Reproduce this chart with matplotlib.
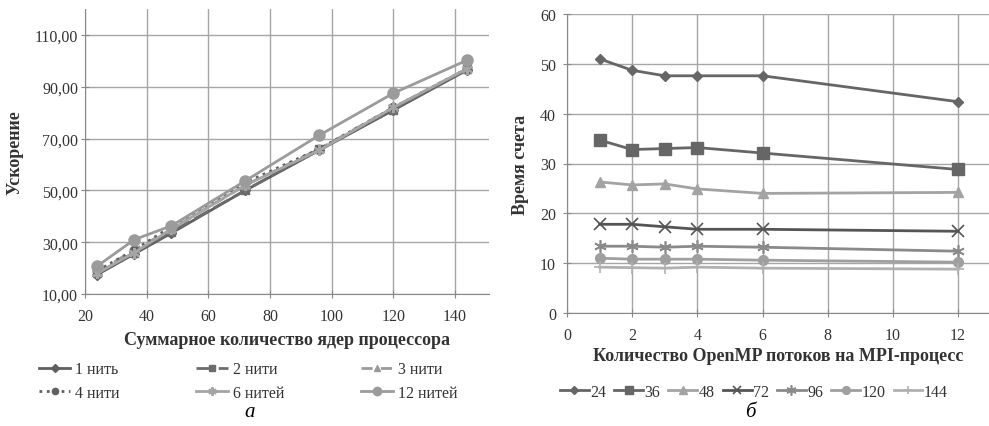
import matplotlib.pyplot as plt
from matplotlib.ticker import FuncFormatter

plt.rcParams['font.family'] = ['Liberation Serif', 'DejaVu Serif']

# левый график: ускорение
cores = [24, 36, 48, 72, 96, 120, 144]
speedup_labels = ['1 нить', '2 нити', '3 нити', '4 нити', '6 нитей', '12 нитей']
s1 = [17.5, 25.5, 33.5, 50.0, 65.5, 81.0, 96.5]
s2 = [18.0, 26.0, 34.0, 50.0, 66.0, 81.0, 97.0]
s3 = [18.5, 27.0, 35.0, 52.0, 66.0, 82.0, 97.0]
s4 = [19.0, 27.0, 36.0, 53.0, 66.0, 82.0, 97.0]
s6 = [18.0, 26.0, 35.0, 52.0, 65.5, 82.0, 97.0]
s12 = [20.8, 31.0, 36.3, 53.7, 71.3, 87.5, 100.3]

# правый график: время счета
threads = [1, 2, 3, 4, 6, 12]
time_labels = ['24', '36', '48', '72', '96', '120', '144']
t24 = [51.0, 48.7, 47.6, 47.6, 47.6, 42.4]
t36 = [34.7, 32.8, 33.0, 33.2, 32.1, 28.8]
t48 = [26.3, 25.7, 25.9, 24.9, 24.0, 24.2]
t72 = [17.8, 17.8, 17.3, 16.8, 16.8, 16.4]
t96 = [13.4, 13.4, 13.2, 13.4, 13.2, 12.4]
t120 = [11.0, 10.8, 10.8, 10.8, 10.6, 10.2]
t144 = [9.2, 9.1, 9.0, 9.2, 9.0, 8.8]

W, H = 989, 427
fig = plt.figure(figsize=(W / 100, H / 100), dpi=100)

def px_axes(l, t, r, b):
    return fig.add_axes([l / W, 1 - b / H, (r - l) / W, (b - t) / H])

grid_c = '#a6a6a6'

def style(ax, xpad, ypad):
    ax.grid(True, color=grid_c, lw=1)
    ax.set_axisbelow(True)
    for s in ['top', 'right']:
        ax.spines[s].set_visible(False)
    for s in ['left', 'bottom']:
        ax.spines[s].set_color('#888888')
    ax.tick_params(direction='inout', length=6, color='#888888', labelsize=11.5,
                   labelcolor='#333333')
    ax.tick_params(axis='x', pad=xpad)
    ax.tick_params(axis='y', pad=ypad)

lab_kw = dict(fontsize=13, fontweight='bold', color='#333333')

# ---- а ----
ax1 = px_axes(85, 10, 489, 295)
styles1 = [
    dict(color='#5f5f5f', ls='-', marker='D', ms=5),
    dict(color='#6c6c6c', ls=(0, (6, 2)), marker='s', ms=6),
    dict(color='#9a9a9a', ls=(0, (4, 3)), marker='^', ms=6),
    dict(color='#606060', ls=':', marker='o', ms=6),
    dict(color='#a5a5a5', ls='-', marker=(6, 2, 0), ms=8, mew=1.5),
    dict(color='#9b9b9b', ls='-', marker='o', ms=8),
]
lines1 = []
for vals, lab, st in zip([s1, s2, s3, s4, s6, s12], speedup_labels, styles1):
    ln, = ax1.plot(cores, vals, lw=2, label=lab, **st)
    lines1.append(ln)
ax1.set_xlim(20, 151)
ax1.set_ylim(10, 120)
ax1.set_xticks(range(20, 141, 20))
ax1.set_yticks(range(10, 111, 20))
ax1.yaxis.set_major_formatter(FuncFormatter(lambda v, p: f'{v:.2f}'.replace('.', ',')))
style(ax1, 7, 2)
ax1.set_xlabel('Суммарное количество ядер процессора', labelpad=5, **lab_kw)
ax1.set_ylabel('Ускорение', labelpad=8, **lab_kw)
order = [0, 3, 1, 4, 2, 5]
fig.legend([lines1[i] for i in order], [speedup_labels[i] for i in order],
           loc='center', bbox_to_anchor=(248 / W, 1 - 382 / H), ncol=3,
           frameon=False, fontsize=11.5, handlelength=2.0, columnspacing=4.8,
           handletextpad=0.3, labelspacing=0.45, labelcolor='#333333',
           markerscale=0.75)

# ---- б ----
ax2 = px_axes(567, 15, 989, 314)
styles2 = [
    dict(color='#666666', marker='D', ms=5),
    dict(color='#666666', marker='s', ms=8),
    dict(color='#a3a3a3', marker='^', ms=7),
    dict(color='#555555', marker='x', ms=8, mew=1.2),
    dict(color='#8a8a8a', marker=(6, 2, 0), ms=9, mew=1.2),
    dict(color='#9f9f9f', marker='o', ms=7),
    dict(color='#b0b0b0', marker='+', ms=8, mew=1.2),
]
lines2 = []
for vals, lab, st in zip([t24, t36, t48, t72, t96, t120, t144], time_labels, styles2):
    ln, = ax2.plot(threads, vals, lw=2, label=lab, **st)
    lines2.append(ln)
ax2.set_xlim(0, 12.95)
ax2.set_ylim(0, 60)
ax2.set_xticks(range(0, 13, 2))
ax2.set_yticks(range(0, 61, 10))
style(ax2, 7, 5)
ax2.set_xlabel('Количество OpenMP потоков на MPI-процесс', labelpad=3, **lab_kw)
ax2.set_ylabel('Время счета', labelpad=8, **lab_kw)
fig.legend(lines2, time_labels, loc='center', bbox_to_anchor=(754 / W, 1 - 393 / H),
           ncol=7, frameon=False, fontsize=11.5, handlelength=1.8, columnspacing=0.5,
           handletextpad=0.1, labelcolor='#333333', markerscale=0.8)

fig.text(250 / W, 1 - 413 / H, 'а', fontsize=15, style='italic', ha='center', va='center')
fig.text(750 / W, 1 - 413 / H, 'б', fontsize=15, style='italic', ha='center', va='center')

fig.savefig('out.png', dpi=100, facecolor='white')
